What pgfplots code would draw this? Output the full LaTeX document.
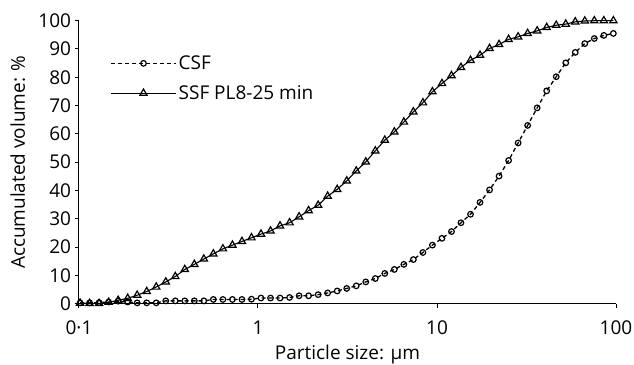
\documentclass[border=0pt]{standalone}
\usepackage{fontspec}
\setmainfont{Open Sans}
\usepackage{pgfplots}
\pgfplotsset{compat=1.18}
\usepackage{pgfplotstable}

\pgfplotstableread{
x y
0.1014 0.3
0.1146 0.3
0.1295 0.4
0.1464 0.6
0.1655 0.9
0.1871 0.6
0.2114 0.3
0.2390 0.3
0.2701 0.3
0.3053 1.0
0.3451 1.0
0.3901 1.0
0.4409 1.0
0.4983 1.0
0.5633 1.5
0.6368 1.5
0.7197 1.5
0.8135 1.5
0.9195 1.6
1.0394 2.0
1.1749 2.0
1.328 2.0
1.501 2.2
1.697 2.8
1.918 2.8
2.168 3.2
2.450 3.8
2.770 4.5
3.131 5.4
3.539 6.3
4.000 7.7
4.521 8.9
5.110 10.7
5.776 12.1
6.529 13.9
7.379 15.6
8.341 18.1
9.428 20.7
10.66 23.1
12.05 25.5
13.61 28.6
15.39 31.6
17.39 35.8
19.66 40.2
22.22 45.1
25.12 50.6
28.39 56.8
32.09 63.0
36.28 69.2
41.00 75.2
46.35 80.2
52.39 85.1
59.21 88.8
66.93 91.9
75.65 93.7
85.51 94.8
96.65 95.5
}\csf

\pgfplotstableread{
x y
0.1014 0.2
0.1146 0.1
0.1295 0.1
0.1464 0.5
0.1655 1.2
0.1871 1.9
0.2114 3.0
0.2390 4.3
0.2701 5.9
0.3053 7.7
0.3451 9.6
0.3901 12.1
0.4409 13.9
0.4983 15.8
0.5633 17.6
0.6368 19.4
0.7197 20.7
0.8135 22.0
0.9195 23.3
1.0394 24.6
1.1749 25.7
1.328 27.5
1.501 28.6
1.697 30.7
1.918 32.9
2.168 34.8
2.450 38.0
2.770 40.4
3.131 43.4
3.539 46.9
4.000 50.1
4.521 54.0
5.110 57.8
5.776 60.7
6.529 64.2
7.379 67.8
8.341 71.0
9.428 74.9
10.66 77.8
12.05 80.6
13.61 83.5
15.39 86.0
17.39 87.8
19.66 90.2
22.22 91.6
25.12 93.4
28.39 94.3
32.09 95.5
36.28 96.4
41.00 97.6
46.35 98.4
52.39 98.8
59.21 99.6
66.93 99.9
75.65 100
85.51 100
96.65 100
}\ssf

\begin{document}
\begin{tikzpicture}[font=\fontsize{19}{23}\selectfont]
\begin{axis}[
  name=ax,
  scale only axis,
  width=537pt, height=283pt,
  xmode=log,
  xmin=0.1, xmax=100,
  ymin=0, ymax=100,
  axis x line*=bottom,
  axis y line*=left,
  axis line style={-, line width=1pt},
  tick style={line width=1pt, black},
  tick align=outside,
  major tick length=4.5pt,
  xtick={0.1,1,10,100},
  xticklabels={0·1,1,10,100},
  minor xtick={},
  xminorticks=false,
  ytick={0,10,...,100},
  /pgf/number format/assume math mode=true,
  xticklabel style={anchor=base, yshift=-26.5pt},
  yticklabel style={anchor=east},
  xlabel={Particle size: µm},
  ylabel={Accumulated volume: \%},
  xlabel style={at={(axis description cs:0.5,-0.1972)}, anchor=base, inner sep=0pt},
  ylabel style={at={(axis description cs:-0.1006,0.5)}, anchor=base, inner sep=0pt},
  legend style={draw=none, fill=none, at={(0.058,0.884)}, anchor=north west,
    row sep=10.5pt, font=\fontsize{19}{23}\selectfont, inner sep=0pt},
  legend cell align=left,
  legend image code/.code={\draw[mark repeat=2,mark phase=2,#1] plot coordinates {(0pt,0pt) (32.5pt,0pt) (65pt,0pt)};},
]
\addplot[black, line width=1.3pt, dash pattern=on 4pt off 3pt, mark=o, mark size=2.8pt, mark options={solid, line width=1.2pt}] table[x=x,y=y] {\csf};
\addlegendentry{CSF}
\addplot[black, line width=1.1pt, mark=triangle, mark size=4.2pt, mark options={solid, line width=1.2pt}] table[x=x,y=y] {\ssf};
\addlegendentry{SSF PL8-25 min}
\end{axis}
\pgfresetboundingbox
\path[use as bounding box] ([xshift=-79pt,yshift=-60.5pt]ax.south west) rectangle ([xshift=18pt,yshift=20.7pt]ax.north east);
\end{tikzpicture}
\end{document}
